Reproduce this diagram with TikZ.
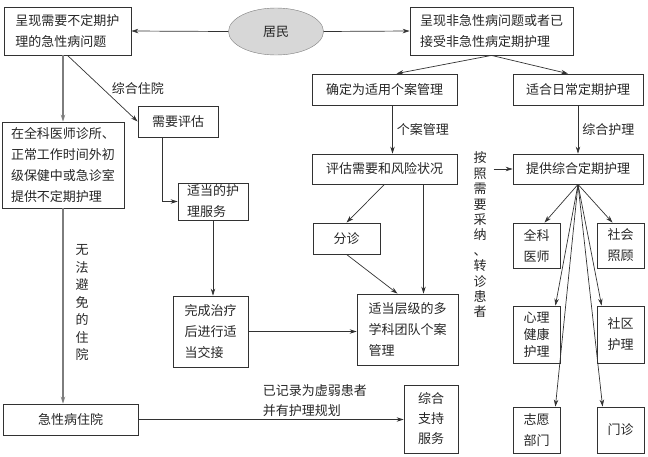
\documentclass[tikz,border=0pt]{standalone}
\usepackage{fontspec}
\setmainfont{Noto Sans CJK SC}
\usepackage{tikz}
\usetikzlibrary{shapes.geometric,arrows.meta,positioning,calc}
\definecolor{lineGray}{RGB}{50,50,50}
\definecolor{softGray}{RGB}{125,125,125}
\definecolor{residentFill}{RGB}{215,215,215}

\begin{document}
\begin{tikzpicture}[x=1pt,y=-1pt,
    box/.style={draw=lineGray, line width=0.8pt, fill=white, inner sep=0pt,
      text=black!85, font=\fontsize{13}{21}\selectfont, align=left},
    arr/.style={-{Stealth[length=7pt,width=4.5pt]}, line width=0.7pt, lineGray},
    grayarr/.style={arr, softGray, line width=1.4pt},
    lbl/.style={text=black!85, font=\fontsize{13}{21}\selectfont, inner sep=1pt},
    vlbl/.style={lbl, align=center, font=\fontsize{13}{17.5}\selectfont}]
        \useasboundingbox (0,0) rectangle (648,456);
        % Top row
        \node[box, minimum width=127pt, minimum height=48pt]
          (acute) at (67.5,31) {呈现需要不定期护\\理的急性病问题};
        \node[ellipse, draw=softGray, fill=residentFill, lbl,
          minimum width=95pt, minimum height=47pt]
          (resident) at (276,31.5) {居民};
        \node[box, minimum width=163pt, minimum height=48pt]
          (nonacute) at (491.5,31) {呈现非急性病问题或者已\\接受非急性病定期护理};
        % Left branch
        \node[box, minimum width=122pt, minimum height=86pt]
          (gpclinic) at (63,165) {在全科医师诊所、\\正常工作时间外初\\级保健中或急诊室\\提供不定期护理};
        \node[box, minimum width=80pt, minimum height=31pt]
          (needassess) at (178,121.5) {需要评估};
        \node[box, minimum width=70pt, minimum height=37pt]
          (suitcare) at (213,201.5) {适当的护\\理服务};
        \node[box, minimum width=75pt, minimum height=71pt]
          (handover) at (210.5,331.5) {完成治疗\\后进行适\\当交接};
        \node[box, minimum width=135pt, minimum height=31pt]
          (hospital) at (70.5,419.5) {急性病住院};
        \node[box, align=center, minimum width=54pt, minimum height=68pt,
          font=\fontsize{13}{20}\selectfont]
          (support) at (431,419) {综合\\支持\\服务};
        % Case management branch
        \node[box, minimum width=145pt, minimum height=31pt]
          (casemgmt) at (384.5,89.5) {确定为适用个案管理};
        \node[box, minimum width=145pt, minimum height=30pt]
          (assess) at (384.5,169) {评估需要和风险状况};
        \node[box, minimum width=67pt, minimum height=31pt]
          (triage) at (346.5,238.5) {分诊};
        \node[box, minimum width=101pt, minimum height=71pt]
          (mdt) at (407.5,329.5) {适当层级的多\\学科团队个案\\管理};
        % Routine care branch
        \node[box, minimum width=130pt, minimum height=31pt]
          (routine) at (578,89.5) {适合日常定期护理};
        \node[box, minimum width=130pt, minimum height=30pt]
          (provide) at (578,169) {提供综合定期护理};
        \node[box, align=center, minimum width=47pt, minimum height=45pt]
          (gp) at (536.5,245.5) {全科\\医师};
        \node[box, align=center, minimum width=47pt, minimum height=45pt]
          (social) at (620.5,245.5) {社会\\照顾};
        \node[box, align=center, minimum width=47pt, minimum height=57pt,
          font=\fontsize{13}{17}\selectfont]
          (mental) at (536.5,334.5) {心理\\健康\\护理};
        \node[box, align=center, minimum width=47pt, minimum height=57pt]
          (community) at (620.5,334.5) {社区\\护理};
        \node[box, align=center, minimum width=47pt, minimum height=46pt]
          (volunteer) at (536.5,430) {志愿\\部门};
        \node[box, align=center, minimum width=47pt, minimum height=46pt]
          (clinic) at (620.5,430) {门诊};
        % Vertical labels
        \node[vlbl] (unavoid) at (82,302.5) {无\\法\\避\\免\\的\\住\\院};
        \node[vlbl, font=\fontsize{13}{15.4}\selectfont]
          (refer) at (480,235) {按\\照\\需\\要\\采\\纳\\、\\转\\诊\\患\\者};
        % Arrows from the resident
        \draw[arr] (resident.west) -- (acute.east);
        \draw[arr] (resident.east) -- (nonacute.west);
        % Left arrows
        \draw[grayarr] (gpclinic.north |- acute.south) -- (gpclinic.north);
        \draw[arr] (acute.south) -- (needassess.west)
          node[lbl, midway, right, xshift=8pt] {综合住院};
        \draw[arr] ([xshift=-16pt]needassess.south) |- (suitcare.west);
        \draw[arr] (suitcare.south) -- (suitcare.south |- handover.north);
        \draw[arr] (handover.east) -- (handover.east -| mdt.west);
        \draw[grayarr] (gpclinic.south) -- (gpclinic.south |- hospital.north);
        \draw[arr] (hospital.east) -- (hospital.east -| support.west)
          node[lbl, pos=0.665, above, align=left, yshift=2pt,
            font=\fontsize{13}{20}\selectfont] {已记录为虚弱患者\\并有护理规划};
        % Case management arrows
        \draw[arr] (nonacute.south) -- ([xshift=12pt]casemgmt.north);
        \draw[arr] ([xshift=8pt]casemgmt.south) -- ([xshift=8pt]assess.north)
          node[lbl, midway, right, xshift=3pt] {个案管理};
        \draw[arr] (assess.south) -- (triage.north);
        \draw[arr] (triage.south) -- ([xshift=-10pt]mdt.north);
        \coordinate (mdtin) at ([xshift=16pt]mdt.north);
        \draw[arr] (assess.south -| mdtin) -- (mdtin);
        % Routine care arrows
        \draw[arr] (nonacute.south) -- ([xshift=-10pt]routine.north);
        \draw[arr] (routine.south) -- (provide.north)
          node[lbl, midway, right, xshift=3pt] {综合护理};
        \coordinate (referout) at ([xshift=6pt]refer.east);
        \draw[arr] (referout |- provide.west) -- (provide.west);
        \draw[arr] (provide.south) -- ([xshift=8pt]gp.north);
        \draw[arr] (provide.south) -- ([xshift=-8pt]social.north);
        \draw[arr] (provide.south) -- ([xshift=-5pt]mental.north east);
        \draw[arr] (provide.south) -- ([xshift=5pt]community.north west);
        \draw[arr] (provide.south) -- ([xshift=-5pt]volunteer.north east);
        \draw[arr] (provide.south) -- ([xshift=6pt]clinic.north west);
      \end{tikzpicture}
\end{document}
